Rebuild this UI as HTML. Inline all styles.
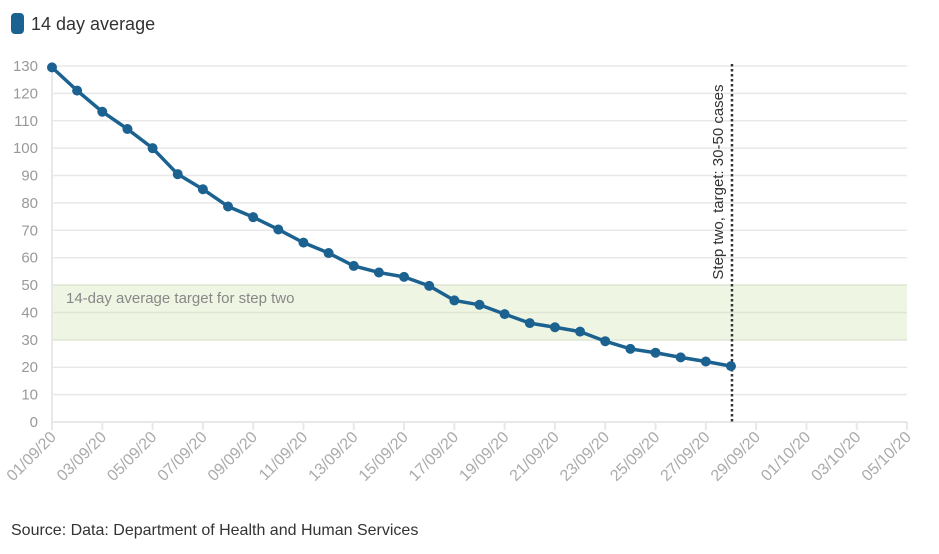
<!DOCTYPE html>
<html><head><meta charset="utf-8"><style>
body{margin:0;background:#fff;font-family:"Liberation Sans",sans-serif}
svg text{font-family:"Liberation Sans",sans-serif}
</style></head><body>
<svg width="939" height="549" xmlns="http://www.w3.org/2000/svg">
<rect x="11" y="13" width="13" height="21" rx="4" fill="#1c6290"/>
<text x="31" y="30" font-size="18" fill="#333">14 day average</text>
<g id="grid"></g>
<rect id="band" fill="#eef5e3"/>
<text id="bandtxt" x="66" y="303" font-size="15" fill="#888">14-day average target for step two</text>
<g id="axes"></g>
<g id="series"></g>
<text x="11" y="535" font-size="16" fill="#333">Source: Data: Department of Health and Human Services</text>
</svg>
<script>
const values=[129.5,121,113.3,107,100,90.5,85,78.7,74.8,70.3,65.5,61.7,57,54.6,53,49.7,44.4,42.8,39.4,36.1,34.6,33,29.5,26.7,25.3,23.6,22.1,20.4];
const yTicks=[0,10,20,30,40,50,60,70,80,90,100,110,120,130];
const xLabels=["01/09/20","03/09/20","05/09/20","07/09/20","09/09/20","11/09/20","13/09/20","15/09/20","17/09/20","19/09/20","21/09/20","23/09/20","25/09/20","27/09/20","29/09/20","01/10/20","03/10/20","05/10/20"];
const bandRange=[30,50];
const markerDay=27;
const totalDays=34;
const X0=52,X1=907,Y0=422,Y130=66;
const x=d=>X0+(X1-X0)*d/totalDays;
const y=v=>Y0-(Y0-Y130)*v/130;
const NS="http://www.w3.org/2000/svg";
function mk(t,a,p){const e=document.createElementNS(NS,t);for(const k in a)e.setAttribute(k,a[k]);p.appendChild(e);return e;}
const grid=document.getElementById('grid'),axes=document.getElementById('axes'),ser=document.getElementById('series');
yTicks.forEach(v=>{
 const l=mk('line',{x1:X0,x2:X1,y1:y(v),y2:y(v),stroke:'#e8e8e8','stroke-width':v===0?2:1.5},grid);
 
 
 const t=mk('text',{x:38,y:y(v)+5,'text-anchor':'end','font-size':15,fill:'#999'},axes);
 t.textContent=v;
 
 
});
const band=document.getElementById('band');
band.setAttribute('x',X0);band.setAttribute('width',X1-X0);
band.setAttribute('y',y(bandRange[1]));band.setAttribute('height',y(bandRange[0])-y(bandRange[1]));
[bandRange[0],(bandRange[0]+bandRange[1])/2,bandRange[1]].forEach(v=>{const l=mk('line',{x1:X0,x2:X1,y1:y(v),y2:y(v),stroke:'#dfe6d3','stroke-width':1.5},axes);});
const ya=mk('line',{x1:X0,x2:X0,y1:Y130-2,y2:Y0+8,stroke:'#e8e8e8','stroke-width':2},axes);

xLabels.forEach((s,i)=>{
 const d=i*2,xx=x(d);
 const tk=mk('line',{x1:xx,x2:xx,y1:Y0,y2:Y0+8,stroke:'#e8e8e8','stroke-width':2},axes);
 
 const t=mk('text',{x:xx+5,y:Y0+16,'text-anchor':'end','font-size':16,fill:'#aaa',transform:`rotate(-45 ${xx+5} ${Y0+16})`},axes);
 t.textContent=s;
 
});
const mx=x(markerDay)+1;
const ml=mk('line',{x1:mx,x2:mx,y1:Y130-2,y2:Y0,stroke:'#333','stroke-width':2.5,'stroke-dasharray':'2.5,2.5'},ser);

const mt=mk('text',{x:0,y:0,'font-size':15,fill:'#333','text-anchor':'start',transform:`translate(${mx-9},${y(52)}) rotate(-90)`},ser);
mt.textContent='Step two, target: 30-50 cases';

const path=mk('polyline',{points:values.map((v,i)=>x(i)+','+y(v)).join(' '),fill:'none',stroke:'#1c6290','stroke-width':3.5,'stroke-linejoin':'round'},ser);

values.forEach((v,i)=>{
 const c=mk('circle',{cx:x(i),cy:y(v),r:5,fill:'#1c6290'},ser);
 
 
});
</script>
</body></html>
